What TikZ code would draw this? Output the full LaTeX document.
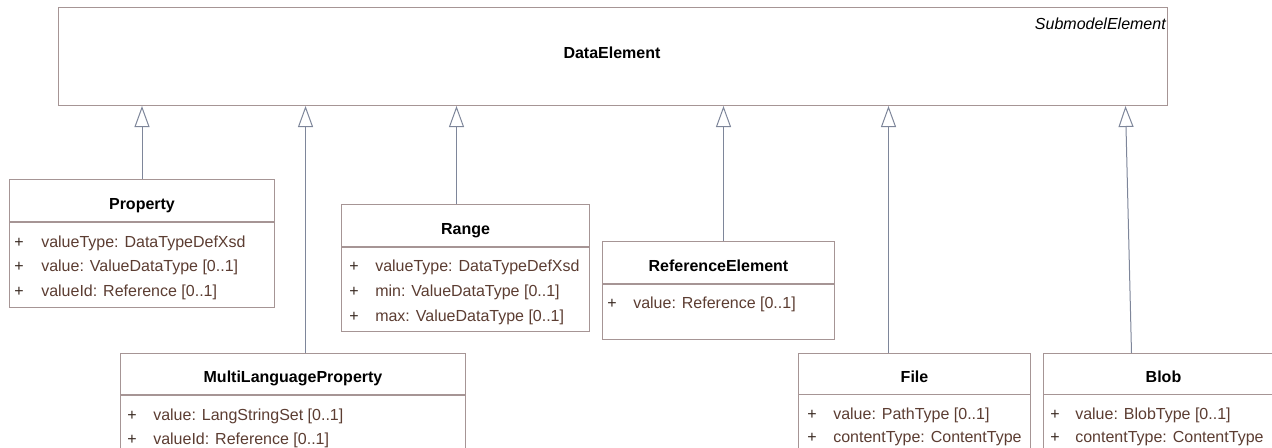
\documentclass[tikz,border=0pt]{standalone}
\usepackage{fontspec}
\setmainfont{Liberation Sans}
\usetikzlibrary{arrows.meta,positioning}
\definecolor{boxc}{HTML}{A69595}
\definecolor{genc}{HTML}{7E869A}
\definecolor{attrc}{HTML}{5C3D32}
\definecolor{plusc}{HTML}{3A2A22}
\begin{document}
\begin{tikzpicture}[x=0.75pt,y=-0.75pt,font=\fontsize{12}{14}\selectfont,
  box/.style={draw=boxc,line width=0.75pt,fill=white,inner sep=0pt,anchor=north west},
  boxsize/.style 2 args={minimum width=#1*0.75pt,minimum height=#2*0.75pt},
  title/.style={anchor=base,inner sep=0pt,font=\fontsize{12}{14}\selectfont\bfseries},
  plus/.style={anchor=base west,inner sep=0pt,text=plusc},
  attr/.style={anchor=base west,inner sep=0pt,text=attrc},
  gen/.style={draw=genc,line width=0.75pt,-{Triangle[open,length=15.75pt,width=11.25pt,fill=white]}}]
  \useasboundingbox (0,0) rectangle (1272,447);

  \node[box,boxsize={1109}{98}] (data) at (58,7) {};
  \node[title] (data-name) at (612,58) {DataElement};
  \node[anchor=base east,inner sep=0pt,font=\fontsize{12}{14}\selectfont\itshape] (data-st) at (1166,29) {SubmodelElement};

  \node[box,boxsize={265}{42}] (prop) at (9,179) {};
  \node[box,boxsize={265}{85}] (prop-b) at (prop.south west) {};
  \node[title] (prop-t) at ([yshift=-22.5pt]prop.north) {Property};
  \foreach \txt [count=\i] in {{valueType: DataTypeDefXsd},{value: ValueDataType [0..1]},{valueId: Reference [0..1]}} {
    \node[plus] (prop-p\i) at ([xshift=3.75pt,yshift={-18.75pt-(\i-1)*18.4pt}]prop-b.north west) {+};
    \node[attr] (prop-a\i) at ([xshift=24pt,yshift={-18.75pt-(\i-1)*18.4pt}]prop-b.north west) {\txt};
  }

  \node[box,boxsize={248}{42}] (range) at (341,204) {};
  \node[box,boxsize={248}{84}] (range-b) at (range.south west) {};
  \node[title] (range-t) at ([yshift=-22.5pt]range.north) {Range};
  \foreach \txt [count=\i] in {{valueType: DataTypeDefXsd},{min: ValueDataType [0..1]},{max: ValueDataType [0..1]}} {
    \node[plus] (range-p\i) at ([xshift=6pt,yshift={-18pt-(\i-1)*19pt}]range-b.north west) {+};
    \node[attr] (range-a\i) at ([xshift=25.5pt,yshift={-18pt-(\i-1)*19pt}]range-b.north west) {\txt};
  }

  \node[box,boxsize={232}{42}] (refel) at (602,241) {};
  \node[box,boxsize={232}{55}] (refel-b) at (refel.south west) {};
  \node[title] (refel-t) at ([yshift=-22.5pt]refel.north) {ReferenceElement};
  \node[plus] (refel-p1) at ([xshift=3.75pt,yshift=-18pt]refel-b.north west) {+};
  \node[attr] (refel-a1) at ([xshift=23.25pt,yshift=-18pt]refel-b.north west) {value: Reference [0..1]};

  \node[box,boxsize={345}{41}] (mlp) at (120,353) {};
  \node[box,boxsize={345}{80}] (mlp-b) at (mlp.south west) {};
  \node[title] (mlp-t) at ([yshift=-22pt]mlp.north) {MultiLanguageProperty};
  \foreach \txt [count=\i] in {{value: LangStringSet [0..1]},{valueId: Reference [0..1]}} {
    \node[plus] (mlp-p\i) at ([xshift=5.25pt,yshift={-18.75pt-(\i-1)*18pt}]mlp-b.north west) {+};
    \node[attr] (mlp-a\i) at ([xshift=24.75pt,yshift={-18.75pt-(\i-1)*18pt}]mlp-b.north west) {\txt};
  }

  \node[box,boxsize={232}{80}] (file-b) at (798,394) {};
  \node[box,boxsize={232}{41}] (file) at (798,353) {};
  \node[title] (file-t) at ([yshift=-22pt]file.north) {File};
  \foreach \txt [count=\i] in {{value: PathType [0..1]},{contentType: ContentType}} {
    \node[plus] (file-p\i) at ([xshift=6.75pt,yshift={-19pt-(\i-1)*17pt}]file-b.north west) {+};
    \node[attr] (file-a\i) at ([xshift=26.25pt,yshift={-19pt-(\i-1)*17pt}]file-b.north west) {\txt};
  }

  \node[box,boxsize={240}{80}] (blob-b) at (1043,394) {};
  \node[box,boxsize={240}{41}] (blob) at (1043,353) {};
  \node[title] (blob-t) at ([yshift=-22pt]blob.north) {Blob};
  \foreach \txt [count=\i] in {{value: BlobType [0..1]},{contentType: ContentType}} {
    \node[plus] (blob-p\i) at ([xshift=5.25pt,yshift={-19pt-(\i-1)*17pt}]blob-b.north west) {+};
    \node[attr] (blob-a\i) at ([xshift=24pt,yshift={-19pt-(\i-1)*17pt}]blob-b.north west) {\txt};
  }

  \draw[gen] (prop.north) -- (prop.north |- data.south);
  \draw[gen] ([xshift=9.4pt]mlp.north) -- ([xshift=9.4pt]mlp.north |- data.south);
  \draw[gen] ([xshift=-6.75pt]range.north) -- ([xshift=-6.75pt]range.north |- data.south);
  \draw[gen] ([xshift=3.75pt]refel.north) -- ([xshift=3.75pt]refel.north |- data.south);
  \draw[gen] ([xshift=-19.5pt]file.north) -- ([xshift=-19.5pt]file.north |- data.south);
  \draw[gen] ([xshift=-24pt]blob.north) -- ([xshift=-28.5pt]blob.north |- data.south);
\end{tikzpicture}
\end{document}
